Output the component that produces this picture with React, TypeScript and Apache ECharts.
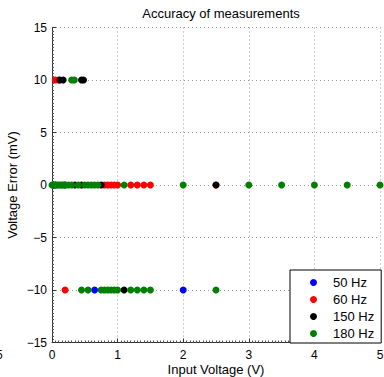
import React, { useEffect, useRef } from "react";
import * as echarts from "echarts";

// Series data: x positions (Input Voltage, V) at each error level (mV)
const levels = [10, 0, -10];

const blueX10: number[] = [];
const blueX0: number[] = [0.05, 0.2];
const blueXm10: number[] = [0.65, 2.0];

const redX10: number[] = [0.05, 0.1];
const redX0: number[] = [0.8, 0.85, 0.9, 0.95, 1.0, 1.2, 1.3, 1.4, 1.5, 2.5];
const redXm10: number[] = [0.2];

const blackX10: number[] = [0.12, 0.17, 0.45, 0.48];
const blackX0: number[] = [0.35, 0.45, 0.75, 2.5];
const blackXm10: number[] = [1.1];

const greenX10: number[] = [0.3, 0.34];
const greenX0: number[] = [
  0, 0.025, 0.05, 0.075, 0.1, 0.125, 0.15, 0.175, 0.2, 0.25, 0.3, 0.4, 0.5,
  0.55, 0.6, 0.65, 0.7, 1.1, 2, 3, 3.5, 4, 4.5, 5,
];
const greenXm10: number[] = [
  0.45, 0.55, 0.75, 0.8, 0.85, 0.9, 0.95, 1.0, 1.2, 1.3, 1.4, 1.5, 2.5,
];

const seriesNames = ["50 Hz", "60 Hz", "150 Hz", "180 Hz"];
const seriesColors = ["#0000ff", "#ff0000", "#000000", "#008000"];
const seriesX = [
  [blueX10, blueX0, blueXm10],
  [redX10, redX0, redXm10],
  [blackX10, blackX0, blackXm10],
  [greenX10, greenX0, greenXm10],
];

const xTicks = [0, 1, 2, 3, 4, 5];
const yTicks = [-15, -10, -5, 0, 5, 10, 15];

const FONT = "Liberation Sans, Arial, sans-serif";

export default function App() {
  const ref = useRef<HTMLDivElement>(null);
  useEffect(() => {
    document.body.style.margin = "0";
    const chart = echarts.init(ref.current!, null, { renderer: "svg" });
    const fmt = (v: number) => String(v).replace("-", "\u2212");
    chart.setOption({
      animation: false,
      textStyle: { fontFamily: FONT },
      title: {
        text: "Accuracy of measurements",
        left: 216,
        textAlign: "center",
        top: 2,
        textStyle: { fontSize: 13, fontWeight: "normal", color: "#000", fontFamily: FONT },
      },
      grid: {
        left: 52,
        right: 4,
        top: 27.5,
        bottom: 34.5,
        containLabel: false,
        outerBoundsMode: "none",
      },
      xAxis: {
        type: "value",
        min: xTicks[0],
        max: xTicks[xTicks.length - 1],
        interval: 1,
        name: "Input Voltage (V)",
        nameLocation: "middle",
        nameGap: 20,
        nameMoveOverlap: false,
        nameTextStyle: { fontSize: 13, color: "#000", fontFamily: FONT },
        axisLine: { show: true, onZero: false, lineStyle: { color: "#333", width: 1 } },
        axisTick: { show: true, inside: true, length: 4, lineStyle: { color: "#333" } },
        minorTick: { show: true, splitNumber: 20, length: 2, lineStyle: { color: "#555" } },
        axisLabel: { fontSize: 12, color: "#000", margin: 6, formatter: fmt, fontFamily: FONT },
        splitLine: { show: true, lineStyle: { color: "#999", type: [1, 3], width: 1 } },
      },
      yAxis: {
        type: "value",
        min: yTicks[0],
        max: yTicks[yTicks.length - 1],
        interval: 5,
        name: "Voltage Error (mV)",
        nameLocation: "middle",
        nameGap: 33,
        nameMoveOverlap: false,
        nameTextStyle: { fontSize: 13, color: "#000", fontFamily: FONT },
        axisLine: { show: true, onZero: false, lineStyle: { color: "#333", width: 1 } },
        axisTick: { show: true, inside: true, length: 4, lineStyle: { color: "#333" } },
        minorTick: { show: true, splitNumber: 16, length: 2, lineStyle: { color: "#555" } },
        axisLabel: { fontSize: 12, color: "#000", margin: 5, formatter: fmt, fontFamily: FONT },
        splitLine: { show: true, lineStyle: { color: "#999", type: [1, 3], width: 1 } },
      },
      legend: {
        orient: "vertical",
        left: 290,
        top: 270,
        width: 92,
        itemWidth: 7,
        itemHeight: 7,
        itemGap: 4,
        padding: [6, 7, 3, 20],
        borderColor: "#000",
        borderWidth: 1,
        backgroundColor: "#fff",
        icon: "circle",
        textStyle: { fontSize: 13, color: "#000", padding: [0, 0, 0, 11], fontFamily: FONT },
        data: seriesNames,
      },
      graphic: [
        {
          type: "text",
          left: -4,
          top: 349,
          style: { text: "5", fontSize: 12, fill: "#000", fontFamily: FONT },
        },
      ],
      series: seriesNames.map((name, i) => ({
        name,
        type: "scatter",
        symbol: "circle",
        symbolSize: 7,
        itemStyle: { color: seriesColors[i], opacity: 1 },
        emphasis: { disabled: true },
        data: seriesX[i].flatMap((xs, k) => xs.map((x) => [x, levels[k]])),
      })),
    });
    return () => chart.dispose();
  }, []);
  return <div ref={ref} style={{ width: 384, height: 377 }} />;
}
